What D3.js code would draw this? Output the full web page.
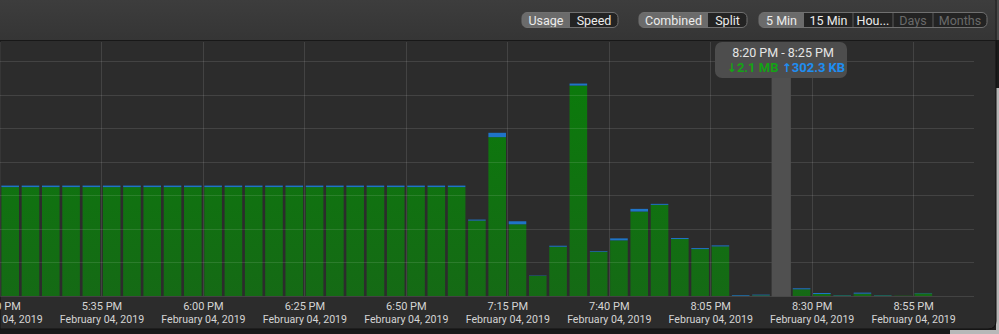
<!DOCTYPE html>
<html>
<head>
<meta charset="utf-8">
<script src="https://cdn.jsdelivr.net/npm/d3@7"></script>
<style>
  body { margin: 0; background: #1b1b1b; overflow: hidden; }
  svg { display: block; font-family: Roboto, "Noto Sans", sans-serif; }
</style>
</head>
<body>
<div id="chart"></div>
<script>
// Data: 5 minute usage slots, values in MB
var slotStart = new Date(2019, 1, 4, 17, 10);
var slotCount = 48;
var download = [
  3.25, 3.25, 3.25, 3.25, 3.25, 3.25, 3.25, 3.25, 3.25, 3.25, 3.25, 3.25,
  3.25, 3.25, 3.25, 3.25, 3.25, 3.25, 3.25, 3.25, 3.25, 3.25, 3.25, 2.25,
  4.74, 2.14, 0.60, 1.47, 6.28, 1.32, 1.66, 2.52, 2.72, 1.70, 1.40, 1.48,
  0.01, 0.02, 2.10, 0.20, 0.06, 0.02, 0.07, 0.02, 0.01, 0.08, 0, 0
];
var upload = [
  0.045, 0.045, 0.045, 0.045, 0.045, 0.045, 0.045, 0.045, 0.045, 0.045, 0.045, 0.045,
  0.045, 0.045, 0.045, 0.045, 0.045, 0.045, 0.045, 0.045, 0.045, 0.045, 0.045, 0.03,
  0.13, 0.09, 0.01, 0.03, 0.06, 0.02, 0.06, 0.08, 0.03, 0.03, 0.03, 0.03,
  0.02, 0.02, 0.30, 0.03, 0.03, 0.01, 0.03, 0.01, 0, 0.01, 0, 0
];
var tickTimes = ["17:10", "17:35", "18:00", "18:25", "18:50", "19:15", "19:40", "20:05", "20:30", "20:55"];
var yTicks = [1, 2, 3, 4, 5, 6, 7];
var selectedSlot = "20:20";
var tooltipDown = "2.1 MB";
var tooltipUp = "302.3 KB";

// Toolbar segmented controls
var controls = [
  { labels: ["Usage", "Speed"], edges: [522, 570, 618], selected: 0, disabled: [] },
  { labels: ["Combined", "Split"], edges: [639, 708, 747], selected: 0, disabled: [] },
  { labels: ["5 Min", "15 Min", "Hou...", "Days", "Months"], edges: [759, 804, 853, 893, 933, 987], selected: 0, disabled: [3, 4] }
];

var W = 999, H = 334;
var plotW = 974, plotTop = 42, plotBottom = 296;

var parseSlot = function(s) {
  var p = s.split(":");
  return new Date(2019, 1, 4, +p[0], +p[1]);
};
var slots = d3.range(slotCount).map(function(i) { return d3.timeMinute.offset(slotStart, 5 * i); });
var slotEnd = d3.timeMinute.offset(slotStart, 5 * slotCount);

var x = d3.scaleTime().domain([slotStart, slotEnd]).range([0, plotW]);
var y = d3.scaleLinear().domain([0, 7.58]).range([plotBottom, plotTop]);
var slotW = x(slots[1]) - x(slots[0]);

var svg = d3.select("#chart").append("svg")
  .attr("width", W)
  .attr("height", H);

var defs = svg.append("defs");
var tg = defs.append("linearGradient").attr("id", "toolbarGrad").attr("x1", 0).attr("y1", 0).attr("x2", 0).attr("y2", 1);
tg.append("stop").attr("offset", "0%").attr("stop-color", "#3d3d3d");
tg.append("stop").attr("offset", "100%").attr("stop-color", "#353535");
var gg = defs.append("linearGradient").attr("id", "barGrad").attr("gradientUnits", "userSpaceOnUse")
  .attr("x1", 0).attr("y1", plotTop).attr("x2", 0).attr("y2", plotBottom);
gg.append("stop").attr("offset", "0%").attr("stop-color", "#0a7d0a");
gg.append("stop").attr("offset", "100%").attr("stop-color", "#156a15");

// outside of the window
svg.append("rect").attr("x", 996).attr("y", 88).attr("width", 3).attr("height", H - 88).attr("fill", "#b8b8b8");
svg.append("rect").attr("x", 950).attr("y", 330).attr("width", 49).attr("height", 4).attr("fill", "#b8b8b8");
svg.append("rect").attr("x", 996).attr("y", 0).attr("width", 3).attr("height", 40).attr("fill", "#4a4a4a");

// window body
svg.append("path")
  .attr("d", "M0,0 H996 V321 Q996,329 988,329 H0 Z")
  .attr("fill", "#2c2c2c")
  .attr("stroke", "#111")
  .attr("stroke-width", 1);

// toolbar
svg.append("rect").attr("x", 0).attr("y", 0).attr("width", 995.5).attr("height", 40).attr("fill", "url(#toolbarGrad)");
svg.append("line").attr("x1", 0).attr("x2", 996).attr("y1", 40.5).attr("y2", 40.5).attr("stroke", "#181818");

controls.forEach(function(c, ci) {
  var g = svg.append("g");
  var x0 = c.edges[0], x1 = c.edges[c.edges.length - 1];
  var clipId = "seg" + ci;
  defs.append("clipPath").attr("id", clipId)
    .append("rect").attr("x", x0).attr("y", 12.5).attr("width", x1 - x0).attr("height", 15).attr("rx", 5);
  g.append("rect")
    .attr("x", x0).attr("y", 12.5).attr("width", x1 - x0).attr("height", 15).attr("rx", 5)
    .attr("fill", "#232323");
  c.labels.forEach(function(lbl, i) {
    var a = c.edges[i], b = c.edges[i + 1];
    if (i === c.selected) {
      g.append("rect").attr("clip-path", "url(#" + clipId + ")")
        .attr("x", a).attr("y", 12.5).attr("width", b - a).attr("height", 15)
        .attr("fill", "#6b6b6b");
    } else if (i > 0 && i - 1 !== c.selected) {
      g.append("line").attr("x1", a).attr("x2", a).attr("y1", 12.5).attr("y2", 27.5)
        .attr("stroke", "#5a5a5a");
    }
    g.append("text")
      .attr("x", (a + b) / 2).attr("y", 24.5)
      .attr("text-anchor", "middle")
      .attr("font-size", "12.5px")
      .attr("fill", c.disabled.indexOf(i) >= 0 ? "#6a6a6a" : "#ececec")
      .text(lbl);
  });
  g.append("rect")
    .attr("x", x0).attr("y", 12.5).attr("width", x1 - x0).attr("height", 15).attr("rx", 5)
    .attr("fill", "none").attr("stroke", "#707070").attr("stroke-width", 1);
});

// bars
var bars = svg.append("g");
bars.selectAll("rect.down")
  .data(slots)
  .enter().append("rect")
  .attr("class", "down")
  .attr("x", function(d) { return x(d) + 1.4; })
  .attr("width", slotW - 2.7)
  .attr("y", function(d, i) { return y(download[i]); })
  .attr("height", function(d, i) { return y(0) - y(download[i]); })
  .attr("fill", "url(#barGrad)");

bars.selectAll("rect.up")
  .data(slots)
  .enter().append("rect")
  .attr("class", "up")
  .attr("x", function(d) { return x(d) + 1.4; })
  .attr("width", slotW - 2.7)
  .attr("y", function(d, i) { return y(download[i] + upload[i]); })
  .attr("height", function(d, i) { return y(download[i]) - y(download[i] + upload[i]); })
  .attr("fill", "#1f74c8");

// grid
var grid = svg.append("g");
grid.selectAll("line.h")
  .data([0].concat(yTicks))
  .enter().append("line")
  .attr("x1", 0).attr("x2", plotW)
  .attr("y1", function(d) { return Math.round(y(d)) + 0.5; })
  .attr("y2", function(d) { return Math.round(y(d)) + 0.5; })
  .attr("stroke", "rgba(255,255,255,0.11)");
grid.selectAll("line.v")
  .data(tickTimes)
  .enter().append("line")
  .attr("x1", function(d) { return Math.round(x(parseSlot(d))) + 0.5; })
  .attr("x2", function(d) { return Math.round(x(parseSlot(d))) + 0.5; })
  .attr("y1", plotTop).attr("y2", plotBottom)
  .attr("stroke", "rgba(255,255,255,0.11)");

// x axis labels
var xAxis = d3.axisBottom(x)
  .tickValues(tickTimes.map(parseSlot))
  .tickSize(0)
  .tickPadding(0)
  .tickFormat(d3.timeFormat("%-I:%M %p"));
var ax = svg.append("g")
  .attr("transform", "translate(0," + plotBottom + ")")
  .call(xAxis);
ax.select(".domain").remove();
ax.selectAll("text")
  .attr("y", 14)
  .attr("dy", 0)
  .attr("font-size", "11px")
  .attr("font-family", "Roboto, sans-serif")
  .attr("fill", "#d4d4d4");
ax.selectAll(".tick").append("text")
  .attr("y", 27)
  .attr("text-anchor", "middle")
  .attr("font-size", "10.6px")
  .attr("font-family", "Roboto, sans-serif")
  .attr("fill", "#d4d4d4")
  .text(function(d) { return d3.timeFormat("%B %d, %Y")(d); });

// hover highlight and tooltip
var sel = parseSlot(selectedSlot);
var sx = x(sel);
svg.append("rect")
  .attr("x", sx + 0.5).attr("y", 70)
  .attr("width", slotW - 1).attr("height", plotBottom - 70 + 0.5)
  .attr("fill", "#505050");
svg.append("rect")
  .attr("x", 715).attr("y", 42)
  .attr("width", 132).attr("height", 36).attr("rx", 7)
  .attr("fill", "#4d4d4d");
var fmt = d3.timeFormat("%-I:%M %p");
svg.append("text")
  .attr("x", 783).attr("y", 57)
  .attr("text-anchor", "middle")
  .attr("font-size", "12.5px")
  .attr("fill", "#e6e6e6")
  .text(fmt(sel) + " - " + fmt(d3.timeMinute.offset(sel, 5)));
var t2 = svg.append("text")
  .attr("x", 786).attr("y", 72)
  .attr("text-anchor", "middle")
  .attr("font-size", "13px")
  .attr("font-weight", 700);
t2.append("tspan").attr("fill", "#14a314").attr("font-family", "DejaVu Sans").attr("font-size", "12px").text("\u2193");
t2.append("tspan").attr("fill", "#14a314").text(tooltipDown + " ");
t2.append("tspan").attr("fill", "#1e8ef2").attr("font-family", "DejaVu Sans").attr("font-size", "12px").text("\u2191");
t2.append("tspan").attr("fill", "#1e8ef2").text(tooltipUp);
</script>
</body>
</html>
